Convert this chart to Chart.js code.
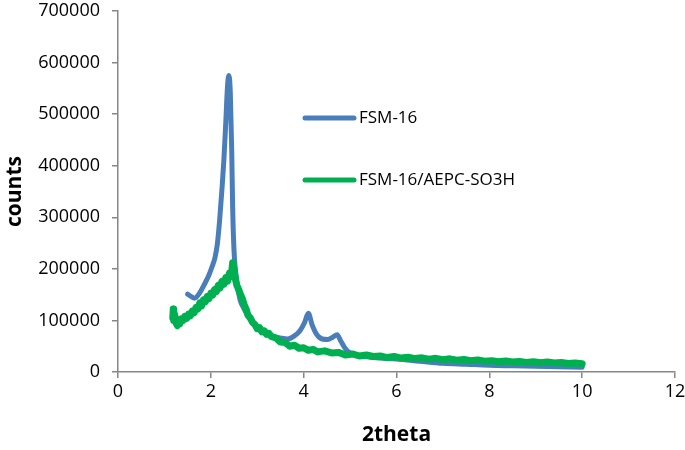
<!DOCTYPE html>
<html>
<head>
<meta charset="utf-8">
<script src="https://cdn.jsdelivr.net/npm/chart.js@4/dist/chart.umd.min.js"></script>
<style>
  html, body { margin: 0; padding: 0; background: #fff; }
  #wrap { width: 685px; height: 450px; }
</style>
</head>
<body>
<div id="wrap"><canvas id="chart"></canvas></div>
<script>
// FSM-16 (smooth curve)
const fsmX = [1.5, 1.58, 1.65, 1.75, 1.85, 1.95, 2.03, 2.09, 2.14, 2.19, 2.24, 2.28, 2.32, 2.36, 2.39, 2.42, 2.45, 2.47, 2.5, 2.56, 2.63, 2.7, 2.78, 2.9, 3.06, 3.3, 3.5, 3.65, 3.8, 3.92, 4.02, 4.1, 4.18, 4.28, 4.4, 4.52, 4.62, 4.72, 4.8, 4.9, 5.0, 5.2, 5.5, 6.0, 6.5, 7.0, 7.5, 8.0, 8.5, 9.0, 9.5, 10.0];
const fsmY = [151000, 146000, 143000, 152000, 168000, 186000, 205000, 222000, 248000, 295000, 355000, 410000, 480000, 555000, 575000, 540000, 430000, 320000, 235000, 175000, 140000, 125000, 112000, 95000, 80000, 70000, 66000, 64000, 70000, 80000, 96000, 114000, 92000, 73000, 64000, 63000, 67000, 72000, 60000, 45000, 37000, 32000, 28000, 25000, 21000, 17000, 15000, 13000, 12000, 11000, 10000, 9000];

// FSM-16/AEPC-SO3H (noisy trace)
const aepcX = [1.18, 1.19, 1.2, 1.22, 1.25, 1.28, 1.3, 1.33, 1.36, 1.4, 1.44, 1.48, 1.52, 1.56, 1.6, 1.64, 1.68, 1.72, 1.76, 1.8, 1.84, 1.88, 1.92, 1.96, 2.0, 2.04, 2.08, 2.12, 2.16, 2.2, 2.24, 2.28, 2.32, 2.36, 2.4, 2.44, 2.47, 2.5, 2.53, 2.56, 2.6, 2.64, 2.68, 2.72, 2.76, 2.8, 2.85, 2.9, 2.95, 3.0, 3.05, 3.1, 3.15, 3.2, 3.25, 3.3, 3.4, 3.5, 3.6, 3.7, 3.8, 3.9, 4.0, 4.1, 4.2, 4.3, 4.45, 4.6, 4.75, 4.9, 5.05, 5.2, 5.35, 5.5, 5.65, 5.8, 5.95, 6.1, 6.25, 6.4, 6.55, 6.7, 6.85, 7.0, 7.15, 7.3, 7.45, 7.6, 7.75, 7.9, 8.05, 8.2, 8.35, 8.5, 8.65, 8.8, 8.95, 9.1, 9.25, 9.4, 9.55, 9.7, 9.85, 10.0];
const aepcY = [105000, 122000, 100000, 112000, 95000, 90000, 98000, 93000, 103000, 100000, 108000, 104000, 112000, 109000, 118000, 115000, 125000, 122000, 134000, 128000, 140000, 136000, 146000, 142000, 153000, 149000, 160000, 156000, 168000, 163000, 176000, 170000, 183000, 176000, 192000, 185000, 212000, 200000, 180000, 168000, 160000, 150000, 142000, 130000, 122000, 110000, 105000, 96000, 92000, 84000, 86000, 78000, 80000, 73000, 75000, 69000, 66000, 58000, 57000, 50000, 52000, 46000, 47000, 42000, 44000, 39000, 41000, 37000, 38000, 33000, 35000, 31000, 33000, 30000, 31000, 28000, 30000, 27000, 28500, 26000, 27500, 25000, 26500, 24000, 25500, 23000, 24500, 22000, 23500, 21000, 22000, 20000, 21500, 19500, 20500, 18500, 20000, 18000, 19500, 17500, 18500, 16500, 17500, 16000];

const xTicks = [0, 2, 4, 6, 8, 10, 12];
const yTicks = [0, 100000, 200000, 300000, 400000, 500000, 600000, 700000];

const axisColor = '#868686';
const fontFamily = '"Open Sans", "Liberation Sans", sans-serif';

function toPoints(xs, ys) {
    return xs.map((x, i) => ({ x: x, y: ys[i] }));
}

// legend drawn inside the plot area, like the original
const insideLegend = {
    id: 'insideLegend',
    afterDraw(chart) {
        const ctx = chart.ctx;
        const rows = [{ y: 118 }, { y: 180 }];
        chart.data.datasets.forEach((ds, i) => {
            const y = rows[ds.legendRow].y;
            ctx.save();
            ctx.strokeStyle = ds.borderColor;
            ctx.lineWidth = 5;
            ctx.lineCap = 'round';
            ctx.beginPath();
            ctx.moveTo(305, y);
            ctx.lineTo(354, y);
            ctx.stroke();
            ctx.fillStyle = '#000';
            ctx.font = '17px ' + fontFamily;
            ctx.textBaseline = 'middle';
            ctx.fillText(ds.label, 359, y);
            ctx.restore();
        });
    }
};

new Chart(document.getElementById('chart'), {
    type: 'line',
    data: {
        datasets: [
            {
                label: 'FSM-16',
                data: toPoints(fsmX, fsmY),
                borderColor: '#4a7ebb',
                borderWidth: 5,
                pointRadius: 0,
                cubicInterpolationMode: 'monotone',
                borderJoinStyle: 'round',
                borderCapStyle: 'round',
                order: 1,
                legendRow: 0
            },
            {
                label: 'FSM-16/AEPC-SO3H',
                data: toPoints(aepcX, aepcY),
                borderColor: '#00b050',
                borderWidth: 7,
                pointRadius: 0,
                tension: 0,
                borderJoinStyle: 'round',
                borderCapStyle: 'round',
                order: 0,
                legendRow: 1
            }
        ]
    },
    options: {
        responsive: true,
        maintainAspectRatio: false,
        animation: false,
        layout: { padding: 0 },
        plugins: {
            legend: { display: false },
            tooltip: { enabled: false }
        },
        scales: {
            x: {
                type: 'linear',
                min: 0,
                max: 12,
                afterFit: (scale) => {
                    scale.height = 78;
                    scale.paddingRight = 10;
                    scale.paddingLeft = 0;
                },
                afterBuildTicks: (scale) => { scale.ticks = xTicks.map(v => ({ value: v })); },
                grid: { drawOnChartArea: false, drawTicks: true, tickLength: 6, color: axisColor, lineWidth: 1.5 },
                border: { color: axisColor, width: 1.5 },
                ticks: { color: '#000', padding: 3, font: { family: fontFamily, size: 18 } },
                title: {
                    display: true,
                    text: '2theta',
                    color: '#000',
                    padding: { top: 2, bottom: 2 },
                    font: { family: fontFamily, size: 21, weight: 'bold' }
                }
            },
            y: {
                min: 0,
                max: 700000,
                afterFit: (scale) => {
                    scale.width = 118;
                    scale.paddingTop = 11;
                    scale.paddingBottom = 0;
                },
                afterBuildTicks: (scale) => { scale.ticks = yTicks.map(v => ({ value: v })); },
                grid: { drawOnChartArea: false, drawTicks: true, tickLength: 6, color: axisColor, lineWidth: 1.5 },
                border: { color: axisColor, width: 1.5 },
                ticks: { color: '#000', padding: 12, font: { family: fontFamily, size: 18 }, callback: (v) => String(v) },
                title: {
                    display: true,
                    text: 'counts',
                    color: '#000',
                    padding: { top: 2, bottom: 2 },
                    font: { family: fontFamily, size: 21, weight: 'bold' }
                }
            }
        }
    },
    plugins: [insideLegend]
});
</script>
</body>
</html>
